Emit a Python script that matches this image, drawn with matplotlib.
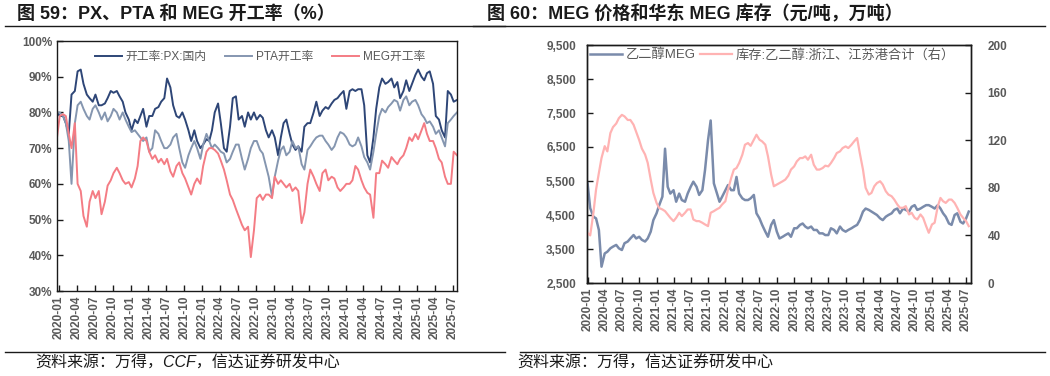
import matplotlib
matplotlib.use('Agg')
import matplotlib.pyplot as plt
import matplotlib.dates as mdates
from matplotlib.lines import Line2D
from matplotlib.ticker import FuncFormatter, MultipleLocator
import pandas as pd

plt.rcParams['font.family'] = ['Liberation Sans', 'Noto Sans CJK SC']
plt.rcParams['axes.unicode_minus'] = False

# ---- 图59 数据：半月频，2020-01 ~ 2025-07 (%)
px_rate = [80, 79, 79, 77, 74, 85, 86, 91.5, 92, 88,
           85, 84, 83, 85, 82, 82, 82.5, 84, 86, 85.5,
           86, 84.5, 83, 80, 78, 75, 78, 77, 79, 81,
           76, 79, 79, 81, 81.5, 83, 84, 89.5, 87, 82,
           79, 78.5, 80, 78, 75, 72, 75, 72, 70, 71,
           72.5, 72, 75, 80, 82.5, 77, 70, 69, 76, 84,
           84.5, 78, 79, 76, 80, 78, 80, 78,
           79.3, 78.5, 75, 73, 75, 73, 68, 73, 77, 78,
           74, 71, 69.5, 70.5, 69, 76, 77, 77, 80, 83,
           79, 80.5, 81.5, 81, 82.5, 83.5, 84, 85, 86, 81,
           86, 86.5, 86, 86.5, 86.5, 82, 68, 66, 73, 81,
           87, 89.5, 88, 88.5, 89.5, 87, 88.5, 84, 86, 89,
           86, 88, 90.5, 92, 90, 89, 91, 91.5, 88, 79,
           78, 75, 73, 86, 85, 83, 83.5]
pta_rate = [80, 80, 79, 77, 72, 60, 77, 82, 83, 81,
            79, 78, 81, 82, 80, 78, 80, 77.5, 79, 81,
            80, 78, 80, 78, 76, 74.5, 75, 74, 73, 72,
            73, 69, 70, 75, 74, 72, 70, 70, 71, 73,
            74, 70, 66, 64.5, 68, 70, 72, 70, 67, 71,
            74, 72, 70, 71, 70, 69, 68.5, 66, 67, 69,
            71, 71, 67, 64, 67, 70, 72, 72,
            69.5, 68.5, 65, 62, 56.5, 62, 66.5, 69.5, 70.5, 68,
            69, 72, 70, 70.5, 65.5, 64, 69.5, 70.5, 72, 73,
            73.5, 73.5, 72, 71, 69.5, 70.5, 73, 74.5, 74, 73,
            71, 70.5, 71, 73, 70.5, 67.5, 66, 64, 69, 74,
            79, 81, 80, 81.5, 82.5, 83.5, 83, 80.5, 83.5, 84.5,
            82, 83, 83.5, 82, 79.5, 78.5, 77, 77.5, 76, 74,
            75, 73, 70.5, 77, 78, 79, 80]
meg_rate = [73, 79, 79.5, 79, 74, 70, 77, 60, 58, 51,
            48, 55, 58, 56, 58, 51.5, 55, 59.5, 61, 63,
            64.5, 63, 61, 60, 60.5, 59, 61.5, 65, 72, 73,
            72, 69, 67, 68, 66, 67, 65.5, 67, 63.5, 62,
            65, 66, 63, 61.5, 59, 57, 60, 61.5, 60, 65,
            69, 70, 70, 69.5, 68.5, 66.5, 64, 61, 57, 55.5,
            53, 51, 48.5, 47, 48, 39.5, 47, 56,
            57, 55.5, 57, 57, 56, 62, 60, 61, 60, 59,
            60, 58, 59, 58, 49, 52, 60, 64, 62, 60,
            58, 63, 64, 61, 62, 61.5, 59, 58, 59, 60,
            60, 61, 65, 64, 61, 59, 57.5, 57, 50.5, 63,
            63, 66.5, 65.5, 64.5, 67.5, 66.5, 65.5, 67, 68, 70,
            73, 72, 74, 72.5, 75, 77, 74, 72, 72, 70,
            67, 66, 62, 60, 60, 69, 68]

# ---- 图60 数据：半月频，2020-01 ~ 2025-07
meg_price = [5430, 4700, 4450, 4400, 4060, 2980, 3370, 3420, 3520, 3570,
             3620, 3520, 3470, 3670, 3720, 3810, 3910, 3810, 3860, 3770,
             3720, 3810, 4010, 4350, 4550, 4790, 5040, 6450, 5330, 5130,
             5230, 4890, 5130, 4940, 4890, 5130, 5330, 5480, 5330, 5090,
             5230, 5820, 6700, 7280, 5430, 5180, 4890, 5040, 5230, 5380,
             5230, 5230, 5620, 5130, 4990, 4940, 4940, 4990, 5090, 4550,
             4400, 4210, 4010, 3860, 4210, 4350, 4010, 3810, 3860, 3910,
             3960, 3860, 4110, 4110, 4210, 4250, 4160, 4110, 4160, 4060,
             4060, 3960, 3960, 3910, 3910, 4110, 4060, 3960, 4160, 4060,
             4010, 4060, 4110, 4160, 4210, 4350, 4600, 4690, 4650, 4600,
             4550, 4500, 4400, 4350, 4450, 4500, 4550, 4650, 4690, 4550,
             4690, 4650, 4600, 4740, 4790, 4650, 4690, 4740, 4790, 4790,
             4740, 4690, 4790, 4690, 4550, 4450, 4250, 4210, 4500, 4550,
             4300, 4250, 4400, 4600]
meg_stock = [42, 40, 59, 78.5, 92.5, 105, 115, 110.6, 126, 131,
             134, 138.5, 141.3, 140, 137, 137, 133, 127, 120, 113,
             108, 101, 87, 75.7, 67.3, 63, 61.8, 60.4, 57.6, 54.8,
             52, 54.8, 59, 56.2, 59, 61.8, 61.8, 53.4, 52, 52,
             50.6, 49.2, 47.8, 59, 60.4, 61.8, 63.2, 66, 68.7, 78.5,
             88.3, 95.3, 96.6, 100.8, 107.8, 116.2, 117.6, 115.3, 120.4, 124.6,
             120.4, 119, 116.2, 106.4, 91, 81.3, 82.7, 84, 85.5, 86.9,
             90.2, 95.3, 98, 102.2, 105, 105, 106.4, 103.6, 107.8, 99.4,
             95.3, 95.3, 96.6, 98.6, 98, 100.8, 105, 109.2, 110.6, 113.4,
             114.8, 113.4, 116.2, 119, 121.8, 109.2, 95.3, 80, 74.3, 75.7,
             81.3, 84, 85.5, 82.7, 77.1, 74.3, 72.9, 70.1, 66, 63.2,
             63.2, 64.6, 57.6, 59, 54.8, 53.4, 57.6, 54.8, 47.8, 42.2,
             49.2, 50.6, 64.6, 71.5, 68.7, 67.3, 70.1, 70.1, 67.3, 63.2,
             57.6, 54.8, 52, 47.8]
price_ticks = [2500, 3500, 4500, 5500, 6500, 7500, 8500, 9500]

dates1 = pd.date_range('2020-01-01', '2025-08-01', freq='SMS') - pd.Timedelta(days=10)
dates2 = pd.date_range('2020-01-01', '2025-07-15', freq='SMS')

TXT = '#595959'
fig = plt.figure(figsize=(10.5, 3.76), dpi=100)


def style_axis(ax, size):
    for s in ax.spines.values():
        s.set_color('#1a1a1a')
        s.set_linewidth(1.0)
    ax.tick_params(direction='in', length=4, width=1, colors='#1a1a1a',
                   labelcolor=TXT, labelsize=size)
    for lab in ax.get_xticklabels() + ax.get_yticklabels():
        lab.set_fontweight('bold')
    ax.xaxis.set_major_locator(mdates.MonthLocator(bymonth=[1, 4, 7, 10]))
    ax.xaxis.set_major_formatter(mdates.DateFormatter('%Y-%m'))
    for lab in ax.get_xticklabels():
        lab.set_rotation(90)


# ---------------- 左图
ax1 = fig.add_axes([57 / 1050, 85 / 376, 400 / 1050, 250 / 376])
l1, = ax1.plot(dates1, px_rate, color='#2e4677', lw=1.4, label='开工率:PX:国内')
l2, = ax1.plot(dates1, pta_rate, color='#8596b0', lw=1.4, label='PTA开工率')
l3, = ax1.plot(dates1, meg_rate, color='#f47c84', lw=1.4, label='MEG开工率')
ax1.set_ylim(30, 100)
ax1.yaxis.set_major_locator(MultipleLocator(10))
ax1.yaxis.set_major_formatter(FuncFormatter(lambda v, p: f'{v:.0f}%'))
ax1.set_xlim(dates1[0], dates1[-1])
style_axis(ax1, 8.5)
ax1.legend(handles=[l1, l2, l3], ncol=3, frameon=False, loc='center left',
           bbox_to_anchor=(33 / 400, 1 - 16 / 250), fontsize=8.5,
           handlelength=2.3, handletextpad=0.3, columnspacing=1.6,
           labelcolor=TXT, borderaxespad=0)

# ---------------- 右图
ax2 = fig.add_axes([587 / 1050, 93 / 376, 384 / 1050, 238 / 376])
ax3 = ax2.twinx()
r1, = ax2.plot(dates2, meg_price, color='#7a8bab', lw=1.8, label='乙二醇MEG')
r2, = ax3.plot(dates2, meg_stock, color='#ffb3b3', lw=1.6,
               label='库存:乙二醇:浙江、江苏港合计（右）')
ax2.set_ylim(2500, 9500)
ax2.set_yticks(price_ticks)
ax2.yaxis.set_major_formatter(FuncFormatter(lambda v, p: f'{v:,.0f}'))
ax3.set_ylim(0, 200)
ax3.yaxis.set_major_locator(MultipleLocator(40))
ax2.set_xlim(pd.Timestamp('2019-12-29'), pd.Timestamp('2025-07-27'))
style_axis(ax2, 8.5)
style_axis(ax3, 8.5)
ax2.tick_params(axis='y', pad=8)
ax3.tick_params(axis='y', pad=12)
ax2.legend(handles=[r1, r2], ncol=2, frameon=False, loc='center left',
           bbox_to_anchor=(-2 / 384, 1 - 10 / 238), fontsize=9.5,
           handlelength=2.4, handletextpad=0.3, columnspacing=0.3,
           labelcolor=TXT, borderaxespad=0)

# ---------------- 标题、分隔线、来源
fig.text(17 / 1050, 1 - 14 / 376, '图 59：PX、PTA 和 MEG 开工率（%）', fontsize=13,
         fontweight='bold', color='#1a1a1a', va='center')
fig.text(487 / 1050, 1 - 14 / 376, '图 60：MEG 价格和华东 MEG 库存（元/吨，万吨）',
         fontsize=13, fontweight='bold', color='#1a1a1a', va='center')
fig.add_artist(Line2D([5 / 1050, 505 / 1050], [1 - 26 / 376] * 2, color='#1a1a1a', lw=1.0))
fig.add_artist(Line2D([473 / 1050, 1045 / 1050], [1 - 26 / 376] * 2, color='#1a1a1a', lw=1.0))
fig.add_artist(Line2D([5 / 1050, 505 / 1050], [1 - 352 / 376] * 2, color='#1a1a1a', lw=1.0))
fig.add_artist(Line2D([520 / 1050, 1045 / 1050], [1 - 352 / 376] * 2, color='#1a1a1a', lw=1.0))
fig.text(35 / 1050, 1 - 363 / 376, '资料来源：万得，CCF，信达证券研发中心', fontsize=11.5,
         style='italic', color='#1a1a1a', va='center')
fig.text(517 / 1050, 1 - 363 / 376, '资料来源：万得，信达证券研发中心', fontsize=11.5,
         style='italic', color='#1a1a1a', va='center')

fig.savefig('out.png', dpi=100)
